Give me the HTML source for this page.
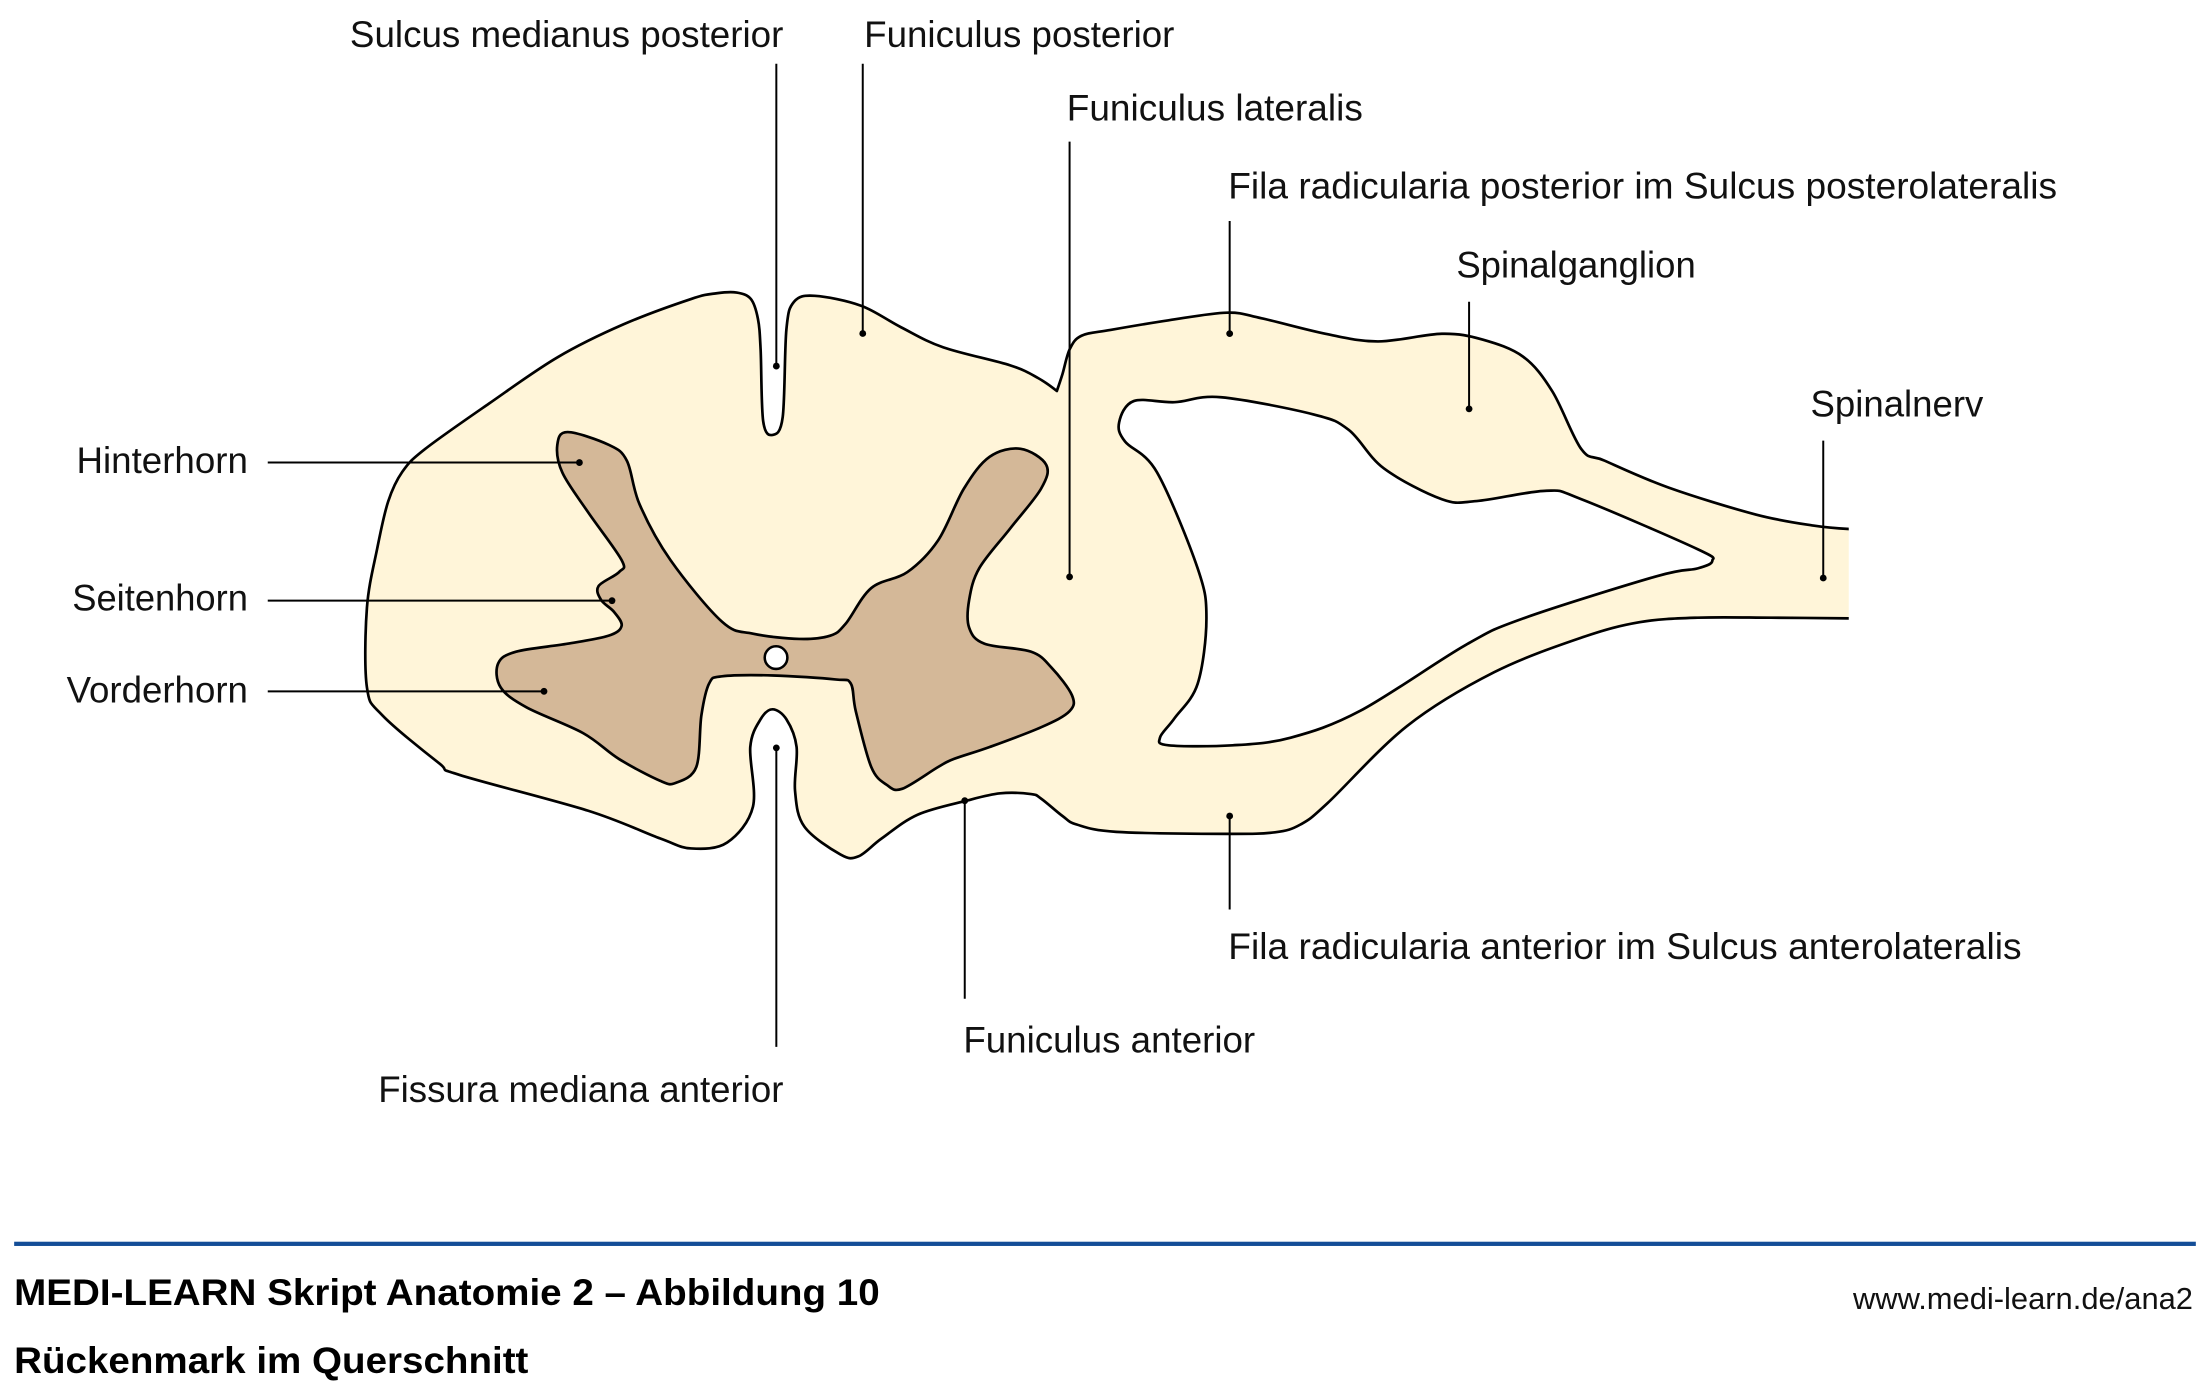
<!DOCTYPE html>
<html>
<head>
<meta charset="utf-8">
<style>
  html,body{margin:0;padding:0;background:#ffffff;}
  svg{display:block;}
  .lbl{font-family:"Liberation Sans",Arial,sans-serif;font-size:26px;fill:#111;}
  .ttl{font-family:"Liberation Sans",Arial,sans-serif;font-size:26px;font-weight:bold;fill:#000;}
  .url{font-family:"Liberation Sans",Arial,sans-serif;font-size:21.5px;fill:#111;}
</style>
</head>
<body>
<svg width="2210" height="1391" viewBox="0 0 1560 981.88" preserveAspectRatio="none" xmlns="http://www.w3.org/2000/svg">
  <defs>
    <clipPath id="cut"><rect x="0" y="0" width="1305" height="981.88"/></clipPath>
  </defs>
  <rect x="0" y="0" width="1560" height="981.88" fill="#ffffff"/>

  <!-- white matter + roots + ganglion + nerve, with hole -->
  <path id="outer" clip-path="url(#cut)" fill="#fff5d9" stroke="#000" stroke-width="1.9" stroke-linejoin="round" fill-rule="evenodd"
    d="M520,206.5 L530,211 L535,225 L536.9,246.6 L538.7,297.2 L545.3,307 L552.5,294.4 L555.1,232.6 L560.5,213 L575.1,208.8 L607.8,215.8 L636,231 L665.9,245.2 L713.1,257.9 L733,267 L746,276 L750,264 L755.1,246.5 L763.4,237 L783.9,232.9 L824.9,226.1 L866,220.7 L890.6,224.7 L935.7,235.6 L972.7,241 L1017.8,235.6 L1046.5,239.7 L1075.3,251.9 L1095.8,276.3 L1116.3,317.1 L1132.7,325.2 L1177.9,344.2 L1239.4,363.2 L1280,371 L1306.5,373.5 L1306.5,436.5 L1250,436 L1198.4,436 L1157.3,439.2 L1116.3,450.1 L1054.7,474.5 L993.2,512.5 L937,567 L918,582 L900,587.5 L866,588.6 L788,587.2 L760,582 L750,576 L735,563.8 L727.7,560.5 L706,560 L682.2,565.2 L647.7,575.1 L622.3,591.9 L605.9,604.5 L593.2,603.1 L567.8,583.5 L561.2,558.2 L562.3,527.3 L555.1,507.7 L545.3,500.7 L536.9,507.7 L529.6,527.3 L531.5,569.4 L513.3,594.7 L487.9,598.9 L466.1,591.9 L415.2,572.3 L324.4,547 L309.8,538.6 L269.9,504.9 L259,485.2 L259,429.1 L266.3,387 L274,354 L284,333 L300,317 L345,285 L393.4,252.3 L440,229 L488,211 L506,207 Z
       M800.3,283.1 L829,283.9 L861.9,280.4 L927.5,292.6 L952.1,303.5 L976.8,330.6 L1017.8,352.4 L1042.4,353.7 L1091.7,346.4 L1116.3,352.4 L1198.4,387.7 L1208.7,395.8 L1198.4,401.2 L1169.6,406.7 L1075.3,436.5 L1034.2,455.5 L960.3,501.7 L911.1,520.7 L870.1,526.1 L824.9,526.1 L818.8,520.7 L829,507.1 L845.4,482.7 L851.6,436.5 L845.4,401.2 L816.7,333.4 L794.1,311.6 L790,298 Z"/>

  <!-- gray matter -->
  <path id="gray" fill="#d4b898" stroke="#000" stroke-width="1.9" stroke-linejoin="round"
    d="M393.4,314 L400.7,305 L429.7,314 L442.5,325.2 L451.5,356.1 L473.3,395.4 L509.7,438.9 L531.5,447.3 L564.2,451 L586,448.7 L596.9,440.3 L615,415.1 L640.5,403.8 L662.2,381.4 L680.4,344.9 L698.6,322.4 L720.4,316.8 L738.5,328.1 L734.9,344.9 L713.1,373 L691.3,401 L684.1,423.5 L684.1,443.1 L695,454.4 L727.7,460 L742.2,471.2 L756.7,490.8 L754.9,502.1 L735,513.3 L698.6,527.3 L673.2,535.8 L662.2,541.4 L636.8,556.8 L625.9,554 L615,541.4 L604.1,502.1 L600.5,482.4 L589.6,479.6 L546,476.8 L509.7,477.4 L500.6,482.4 L495.1,504.9 L491.5,541.4 L477,552.6 L466.1,551.2 L437,535.8 L411.6,517.5 L371.6,499.3 L353.4,485.2 L351.6,468.4 L364.3,460 L400.7,454.4 L429.7,448.7 L438.8,441.7 L433.4,431.9 L424.3,423.5 L422.5,413.7 L437,403.8 L438.8,395.4 L415.2,361.7 L397,333.7 Z"/>

  <!-- central canal -->
  <circle cx="547.8" cy="464.2" r="8" fill="#ffffff" stroke="#000" stroke-width="1.8"/>

  <!-- leader lines -->
  <g stroke="#000" stroke-width="1.4" fill="none">
    <line x1="548" y1="45" x2="548" y2="258.4"/>
    <line x1="609" y1="45" x2="609" y2="235.4"/>
    <line x1="755" y1="100" x2="755" y2="407.2"/>
    <line x1="868" y1="156" x2="868" y2="235.5"/>
    <line x1="1037" y1="213" x2="1037" y2="288.6"/>
    <line x1="1287" y1="311" x2="1287" y2="408"/>
    <line x1="189" y1="326.5" x2="409" y2="326.5"/>
    <line x1="189" y1="424" x2="432" y2="424"/>
    <line x1="189" y1="488" x2="384" y2="488"/>
    <line x1="548" y1="527.9" x2="548" y2="739"/>
    <line x1="681" y1="565.2" x2="681" y2="705"/>
    <line x1="868" y1="576" x2="868" y2="642"/>
  </g>
  <g fill="#000">
    <circle cx="548" cy="258.4" r="2.4"/>
    <circle cx="609" cy="235.4" r="2.4"/>
    <circle cx="755" cy="407.2" r="2.4"/>
    <circle cx="868" cy="235.5" r="2.4"/>
    <circle cx="1037" cy="288.6" r="2.4"/>
    <circle cx="1287" cy="408" r="2.4"/>
    <circle cx="409" cy="326.5" r="2.4"/>
    <circle cx="432" cy="424" r="2.4"/>
    <circle cx="384" cy="488" r="2.4"/>
    <circle cx="548" cy="527.9" r="2.4"/>
    <circle cx="681" cy="565.2" r="2.4"/>
    <circle cx="868" cy="576" r="2.4"/>
  </g>

  <!-- labels -->
  <text class="lbl" x="247" y="33" textLength="306" lengthAdjust="spacingAndGlyphs">Sulcus medianus posterior</text>
  <text class="lbl" x="610" y="33" textLength="219" lengthAdjust="spacingAndGlyphs">Funiculus posterior</text>
  <text class="lbl" x="753" y="85" textLength="209" lengthAdjust="spacingAndGlyphs">Funiculus lateralis</text>
  <text class="lbl" x="867" y="140" textLength="585" lengthAdjust="spacingAndGlyphs">Fila radicularia posterior im Sulcus posterolateralis</text>
  <text class="lbl" x="1028" y="196" textLength="169" lengthAdjust="spacingAndGlyphs">Spinalganglion</text>
  <text class="lbl" x="1278" y="294" textLength="122" lengthAdjust="spacingAndGlyphs">Spinalnerv</text>
  <text class="lbl" x="54" y="334" textLength="121" lengthAdjust="spacingAndGlyphs">Hinterhorn</text>
  <text class="lbl" x="51" y="431" textLength="124" lengthAdjust="spacingAndGlyphs">Seitenhorn</text>
  <text class="lbl" x="47" y="496" textLength="128" lengthAdjust="spacingAndGlyphs">Vorderhorn</text>
  <text class="lbl" x="867" y="677" textLength="560" lengthAdjust="spacingAndGlyphs">Fila radicularia anterior im Sulcus anterolateralis</text>
  <text class="lbl" x="680" y="743" textLength="206" lengthAdjust="spacingAndGlyphs">Funiculus anterior</text>
  <text class="lbl" x="267" y="778" textLength="286" lengthAdjust="spacingAndGlyphs">Fissura mediana anterior</text>

  <!-- footer -->
  <rect x="10" y="876.5" width="1540" height="3" fill="#134d97"/>
  <text class="ttl" x="10" y="921" textLength="611" lengthAdjust="spacingAndGlyphs">MEDI-LEARN Skript Anatomie 2 – Abbildung 10</text>
  <text class="ttl" x="10" y="969" textLength="363" lengthAdjust="spacingAndGlyphs">Rückenmark im Querschnitt</text>
  <text class="url" x="1308" y="924" textLength="240" lengthAdjust="spacingAndGlyphs">www.medi-learn.de/ana2</text>
</svg>
<script>
(function(){
  var corners = {"746,276":1,"1306.5,373.5":1,"1306.5,436.5":1};
  function smooth(id){
    var el = document.getElementById(id);
    if(!el) return;
    var d = el.getAttribute('d');
    var subs = d.split(/Z/i);
    var out = '';
    for(var s=0;s<subs.length;s++){
      var nums = subs[s].match(/-?[\d.]+/g);
      if(!nums || nums.length<4) continue;
      var pts = [];
      for(var i=0;i+1<nums.length;i+=2){
        var x=parseFloat(nums[i]), y=parseFloat(nums[i+1]);
        pts.push([x,y, corners[nums[i]+','+nums[i+1]]?1:0]);
      }
      var n = pts.length;
      out += 'M'+pts[0][0]+','+pts[0][1];
      for(var k=0;k<n;k++){
        var p0=pts[(k-1+n)%n], p1=pts[k], p2=pts[(k+1)%n], p3=pts[(k+2)%n];
        var c1 = p1[2] ? [p1[0],p1[1]] : [p1[0]+(p2[0]-p0[0])/6, p1[1]+(p2[1]-p0[1])/6];
        var c2 = p2[2] ? [p2[0],p2[1]] : [p2[0]-(p3[0]-p1[0])/6, p2[1]-(p3[1]-p1[1])/6];
        out += ' C'+c1[0].toFixed(2)+','+c1[1].toFixed(2)+' '+c2[0].toFixed(2)+','+c2[1].toFixed(2)+' '+p2[0]+','+p2[1];
      }
      out += ' Z ';
    }
    el.setAttribute('d', out);
  }
  smooth('outer');
  smooth('gray');
})();
</script>
</body>
</html>
